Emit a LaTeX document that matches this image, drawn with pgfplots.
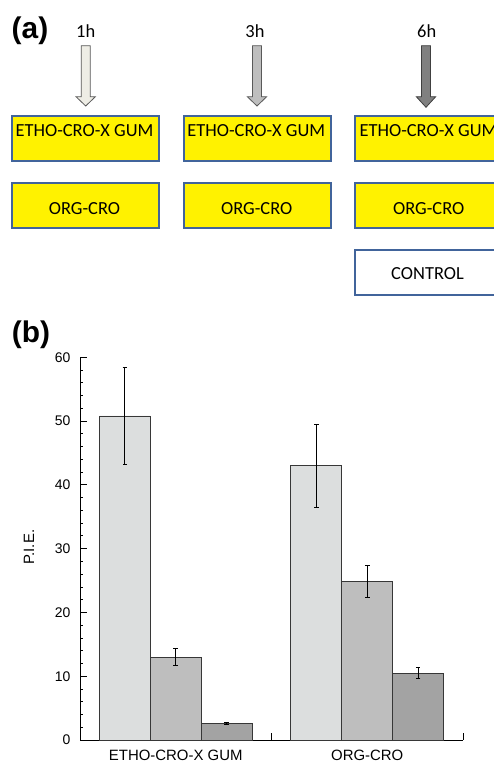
\documentclass[border=0pt]{standalone}
\usepackage{fontspec}
\setmainfont{Liberation Sans}
\newfontfamily\calibri{Carlito}
\usepackage{pgfplots}
\pgfplotsset{compat=1.18}

\definecolor{boxblue}{RGB}{65,100,155}
\definecolor{arrA}{RGB}{238,237,229}
\definecolor{arrB}{RGB}{190,190,190}
\definecolor{arrC}{RGB}{128,128,128}
\definecolor{barA}{RGB}{220,222,222}
\definecolor{barB}{RGB}{190,190,190}
\definecolor{barC}{RGB}{163,163,163}
\definecolor{baredge}{RGB}{55,55,55}

\newcommand\arr[4]{% center x, tip y (px), fill, outline
 \filldraw[fill=#3, draw=#4, line width=0.8bp] ({#1-4.5},716.3) -- ({#1+4.5},716.3) -- ({#1+4.5},665.3) -- ({#1+9.7},665.3) -- (#1,{762-#2}) -- ({#1-9.7},665.3) -- ({#1-4.5},665.3) -- cycle;}
\newcommand\ybox[5]{% x1 x2 ytop ybottom fill
 \filldraw[fill=#5, draw=boxblue, line width=2bp] (#1,{762-#3}) rectangle (#2,{762-#4});}

\begin{document}
\begin{tikzpicture}[x=1bp,y=1bp]
\path[use as bounding box, clip] (0,0) rectangle (494,762);
\fill[white] (0,0) rectangle (494,762);
% ---------- panel (a) ----------
\node[font=\fontsize{30}{30}\selectfont\bfseries, inner sep=0] at (30,731.7) {(a)};
\node[font=\calibri\fontsize{18.5}{18.5}\selectfont, inner sep=0, anchor=base] at (85.7,724.7) {1h};
\node[font=\calibri\fontsize{18.5}{18.5}\selectfont, inner sep=0, anchor=base] at (255,724.7) {3h};
\node[font=\calibri\fontsize{18.5}{18.5}\selectfont, inner sep=0, anchor=base] at (426.7,724.7) {6h};
\arr{85.7}{106}{arrA}{black!65}
\arr{257}{106}{arrB}{black!65}
\arr{426}{107.3}{arrC}{black!75}
\ybox{12.3}{159}{116}{160.7}{yellow}
\ybox{184}{331}{116}{160.7}{yellow}
\ybox{355}{502}{116}{160.7}{yellow}
\ybox{12.3}{159}{183.3}{228.3}{yellow}
\ybox{184}{331}{183.3}{228.3}{yellow}
\ybox{355}{502}{183.3}{228.3}{yellow}
\ybox{355}{502}{250}{295}{white}
\begin{scope}[every node/.style={font=\calibri\fontsize{18.5}{18.5}\selectfont, inner sep=0, anchor=base}]
\node at (84.5,625) {ETHO-CRO-X GUM};
\node at (256.3,625) {ETHO-CRO-X GUM};
\node at (428.5,625) {ETHO-CRO-X GUM};
\node at (84.5,547.7) {ORG-CRO};
\node at (256.7,547.7) {ORG-CRO};
\node at (428.7,547.7) {ORG-CRO};
\node at (427.5,482.7) {CONTROL};
\end{scope}
% ---------- panel (b) ----------
\node[font=\fontsize{30}{30}\selectfont\bfseries, inner sep=0] at (31,427) {(b)};
\begin{axis}[
  at={(80bp,22bp)}, anchor=south west,
  scale only axis, width=383bp, height=382.7bp,
  xmin=0, xmax=2, ymin=0, ymax=60,
  axis x line=bottom, axis y line=left,
  axis line style={-, black, line width=0.8bp},
  tick align=inside,
  ytick={0,10,...,60}, minor y tick num=4,
  major tick length=6.7bp, minor tick length=3.3bp,
  ytick style={black, line width=0.8bp},
  xtick={0.5,1.5}, xticklabels={ETHO-CRO-X GUM, ORG-CRO},
  xtick style={draw=none},
  /pgf/number format/assume math mode=true,
  yticklabel style={font=\fontsize{14}{14}\selectfont, xshift=-6bp},
  xticklabel style={font=\fontsize{15}{15}\selectfont, yshift=0bp},
  ylabel={P.I.E.},
  ylabel style={font=\fontsize{15}{15}\selectfont, at={(axis description cs:-0.133,0.504)}, anchor=center},
  ybar=0pt, bar width=0.266,
  clip=false,
]
\addplot[fill=barA, draw=baredge, line width=0.9bp,
  error bars/.cd, y dir=both, y explicit,
  error bar style={black, line width=0.7bp},
  error mark options={rotate=90, mark size=2.3bp, black, line width=0.7bp}]
  coordinates {(0.5,50.8) +- (0,7.6) (1.5,43.0) +- (0,6.45)};
\addplot[fill=barB, draw=baredge, line width=0.9bp,
  error bars/.cd, y dir=both, y explicit,
  error bar style={black, line width=0.7bp},
  error mark options={rotate=90, mark size=2.3bp, black, line width=0.7bp}]
  coordinates {(0.5,13.0) +- (0,1.3) (1.5,24.9) +- (0,2.5)};
\addplot[fill=barC, draw=baredge, line width=0.9bp,
  error bars/.cd, y dir=both, y explicit,
  error bar style={black, line width=0.7bp},
  error mark options={rotate=90, mark size=2.3bp, black, line width=0.7bp}]
  coordinates {(0.5,2.6) +- (0,0.2) (1.5,10.5) +- (0,0.9)};
\draw[black, line width=0.8bp] (axis cs:1,0) -- ++(0,6.7bp);
\draw[black, line width=0.8bp] (axis cs:2,0) -- ++(0,6.7bp);
\end{axis}
\end{tikzpicture}
\end{document}
